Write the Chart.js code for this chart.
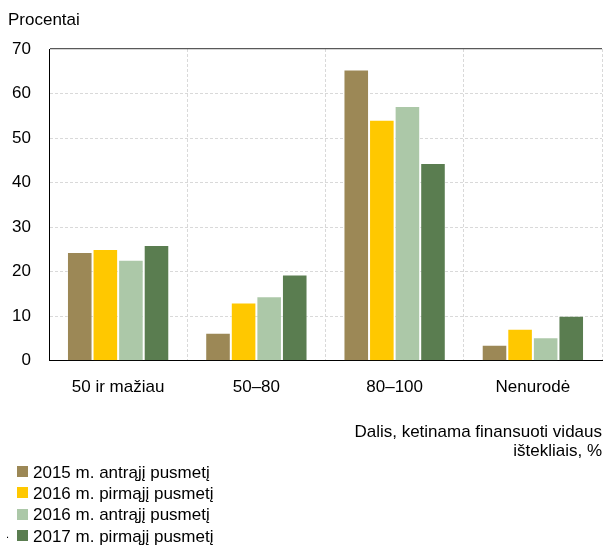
<!DOCTYPE html>
<html><head><meta charset="utf-8">
<script src="https://cdn.jsdelivr.net/npm/chart.js@4/dist/chart.umd.min.js"></script>
<style>
html,body{margin:0;padding:0;background:#fff;}
#wrap{position:relative;width:603px;height:549px;overflow:hidden;}
canvas{position:absolute;left:0;top:0;}
#legend{position:absolute;left:17px;top:462px;font:17px "Liberation Sans",Arial,sans-serif;color:#000;}
.item{height:21.3px;display:flex;align-items:center;white-space:nowrap;}
.box{width:11px;height:11px;margin-right:5px;margin-top:-2px;flex:none;}
#dot{position:absolute;left:6px;top:528px;font:11px "Liberation Sans",Arial,sans-serif;color:#000;}
</style></head><body>
<div id="wrap"><canvas id="c" width="603" height="549"></canvas><div id="legend"></div><span id="dot">.</span></div>
<script>
const categories = ['50 ir mažiau', '50–80', '80–100', 'Nenurodė'];
const seriesLabels = ['2015 m. antrąjį pusmetį', '2016 m. pirmąjį pusmetį', '2016 m. antrąjį pusmetį', '2017 m. pirmąjį pusmetį'];
const s2015H2 = [24.4, 6.3, 65.4, 3.6];
const s2016H1 = [25.1, 13.1, 54.1, 7.2];
const s2016H2 = [22.7, 14.5, 57.2, 5.3];
const s2017H1 = [26.0, 19.4, 44.4, 10.1];
const yTicks = [0, 10, 20, 30, 40, 50, 60, 70];
const xTitle = ['Dalis, ketinama finansuoti vidaus', 'ištekliais, %'];
const yTitle = 'Procentai';
const colors = ['#9C8856', '#FFC800', '#ACC8A8', '#5A7D50'];

Chart.defaults.font.family = '"Liberation Sans", Arial, sans-serif';
Chart.defaults.font.size = 17;
Chart.defaults.color = '#000';

const seriesValues = [s2015H2, s2016H1, s2016H2, s2017H1];
const datasets = seriesValues.map((vals, i) => ({
  label: seriesLabels[i],
  data: vals,
  backgroundColor: colors[i],
  borderColor: 'rgba(255,255,255,0.35)',
  borderWidth: 1,
  categoryPercentage: 0.74,
  barPercentage: 1.0
}));

const chart = new Chart(document.getElementById('c'), {
  type: 'bar',
  data: { labels: categories, datasets },
  options: {
    responsive: false,
    animation: false,
    devicePixelRatio: 1,
    layout: { padding: { left: 8, right: 1, top: 0, bottom: 87.7 } },
    plugins: {
      legend: { display: false },
      tooltip: { enabled: false },
      title: {
        display: true, text: yTitle, align: 'start', color: '#000',
        font: { size: 17, weight: 'normal' },
        padding: { top: 10, bottom: 18.6 }
      }
    },
    scales: {
      x: {
        grid: {
          offset: true, drawTicks: false, lineWidth: 1,
          color: c => (c.index === 0 || c.index === categories.length) ? 'rgba(0,0,0,0)' : '#d9d9d9'
        },
        border: { color: '#000', width: 1, dash: [3, 2] },
        ticks: { padding: 16, color: '#000', font: { size: 17 } },
        title: {
          display: true, text: xTitle, align: 'end', color: '#000',
          font: { size: 17, lineHeight: 1.15 },
          padding: { top: 9, bottom: 0 }
        }
      },
      y: {
        min: 0, max: 70,
        afterBuildTicks: s => { s.ticks = yTicks.map(v => ({ value: v })); },
        afterFit: s => { s.width = 41; },
        grid: {
          drawTicks: false,
          color: c => c.tick && c.tick.value === 0 ? 'rgba(0,0,0,0)' : (c.tick && c.tick.value === 70 ? '#595959' : '#d9d9d9'),
          lineWidth: c => c.tick && c.tick.value === 70 ? 1.3 : 1
        },
        border: { color: '#000', width: 1, dash: c => (c.tick && c.tick.value === 70) ? [] : [3, 2] },
        ticks: { padding: 18, color: '#000', font: { size: 17 } }
      }
    }
  }
});

const legendEl = document.getElementById('legend');
chart.data.datasets.forEach(ds => {
  const row = document.createElement('div');
  row.className = 'item';
  const box = document.createElement('span');
  box.className = 'box';
  box.style.background = ds.backgroundColor;
  const txt = document.createElement('span');
  txt.textContent = ds.label;
  row.appendChild(box); row.appendChild(txt);
  legendEl.appendChild(row);
});
</script>
</body></html>
